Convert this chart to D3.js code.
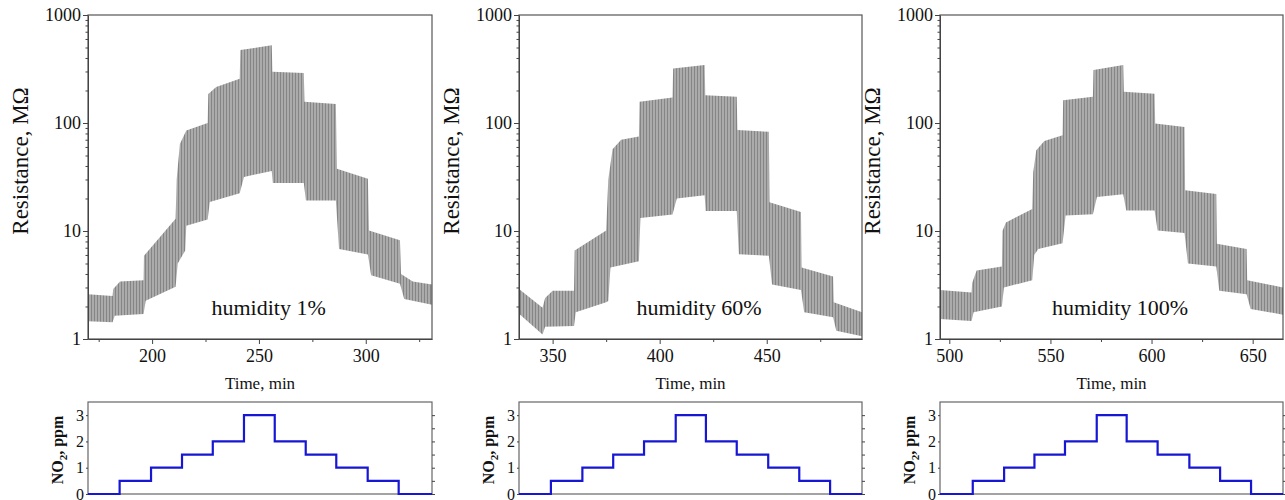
<!DOCTYPE html>
<html>
<head>
<meta charset="utf-8">
<script src="https://cdn.jsdelivr.net/npm/d3@7"></script>
<style>
    body { margin: 0; background: #fff; }
    svg text { font-family: "Liberation Serif", "Times New Roman", Times, serif !important; fill: #111; }
    .axis path, .axis line { stroke: #444; }
</style>
</head>
<body>
<div id="chart"></div>
<script>
// ---- data ----
const humidityLabels = ["humidity 1%", "humidity 60%", "humidity 100%"];
const resistanceTicks = [1, 10, 100, 1000];
const no2Ticks = [0, 1, 2, 3];
const no2Levels = [0, 0.5, 1, 1.5, 2, 3, 2, 1.5, 1, 0.5, 0];

// time axis ranges (min)
const timeRange1 = [170, 331];
const timeRange2 = [334.3, 494.5];
const timeRange3 = [495.4, 665];

// times at which each NO2 level starts (min)
const no2Start1 = [170, 184.8, 199.5, 214, 228.4, 243, 257.4, 271.9, 286.2, 300.9, 315.4];
const no2Start2 = [334.3, 349.2, 363.9, 378.3, 392.7, 407.5, 421.6, 436, 450.7, 465.2, 479.6];
const no2Start3 = [495.4, 511.6, 527.1, 542.1, 557.2, 572.9, 587.7, 603, 618.7, 633.9, 649.2];

// upper / lower envelope of the pulsed resistance signal [time, MOhm]
const upper1 = [[170, 2.6], [181.5, 2.5], [181.8, 2.9], [185, 3.4], [196, 3.5], [196.2, 5.9], [211, 13], [211.5, 30],
    [213, 64], [216, 85], [226, 100], [226.3, 186], [230, 215], [241, 257], [241.3, 473], [256, 525], [256.3, 298],
    [271, 290], [271.3, 157], [286, 150], [286.5, 37.8], [301, 30.5], [301.5, 10.1], [316, 8.2], [316.5, 4.0],
    [322, 3.4], [331, 3.2]];
const lower1 = [[170, 1.46], [181.5, 1.43], [182.5, 1.64], [196, 1.7], [197, 2.26], [211, 3.05], [212, 5.0],
    [215.5, 6.6], [216, 11.2], [226, 12.8], [227, 18.6], [241, 22.4], [243, 31.7], [256, 36], [256.5, 27.8],
    [271, 27.8], [272, 19.2], [286, 19.2], [287.5, 6.8], [301, 6.05], [302.5, 3.9], [316, 3.24], [318, 2.35],
    [331, 2.08]];

const upper2 = [[334.3, 2.9], [345.3, 1.95], [346.5, 2.4], [350, 2.8], [360, 2.8], [360.3, 6.6], [375, 10.1],
    [376, 30], [378, 57], [382, 70], [390.3, 75], [390.6, 157], [406, 172], [406.3, 320], [421, 344], [421.3, 181],
    [436, 175], [436.3, 86], [451, 83], [451.3, 18.5], [466, 15], [466.3, 4.6], [481, 3.8], [481.3, 2.19],
    [494.5, 1.77]];
const lower2 = [[334.3, 1.71], [345.3, 1.1], [346.5, 1.3], [360, 1.32], [360.8, 1.77], [375, 2.19], [376, 2.25],
    [377, 4.6], [390.3, 5.25], [391, 13.2], [406, 14.2], [408, 20], [421, 21.4], [421.5, 15.3], [436, 15.3],
    [437, 6.1], [451, 5.9], [452.5, 3.2], [466, 2.85], [467.5, 1.77], [481, 1.59], [482.5, 1.19], [494.5, 1.06]];

const upper3 = [[495.4, 2.85], [511, 2.7], [511.3, 3.3], [513.5, 4.3], [526, 4.7], [526.3, 10], [528, 12],
    [541, 16], [541.5, 35], [543, 56], [547, 68], [556, 77], [556.3, 162], [571, 175], [571.3, 309], [586, 344],
    [586.3, 195], [601.5, 187], [601.8, 99], [616.3, 92], [616.6, 23.8], [632, 22], [632.3, 7.6], [647, 6.8],
    [647.3, 3.5], [665, 3.0]];
const lower3 = [[495.4, 1.53], [511, 1.47], [512, 1.77], [526, 2.0], [527, 3.0], [541, 3.5], [542, 6.0],
    [544, 6.8], [556, 7.7], [557.5, 13.9], [571, 14.3], [573, 20.6], [586, 21.9], [587.5, 15.5], [601.5, 15.5],
    [603, 10.1], [616.3, 9.6], [618, 5.0], [632, 4.7], [633.5, 2.8], [647, 2.6], [649, 1.9], [665, 1.68]];

const SERIF = '"Liberation Serif", "Times New Roman", Times, serif';

/* * * * * * * * * * * * * *
*      class SensorPanel     *
* * * * * * * * * * * * * */

class SensorPanel {

    constructor(svg, id, left, right, cfg) {
        this.svg = svg;
        this.id = id;
        this.left = left;
        this.right = right;
        this.cfg = cfg;

        this.initVis();
    }

    initVis() {
        let vis = this;

        vis.top = {y0: 15, y1: 339};
        vis.bot = {y0: 402, y1: 494};

        vis.x = d3.scaleLinear().domain(vis.cfg.time).range([vis.left, vis.right]);
        vis.y = d3.scaleLog().domain([1, 1000]).range([vis.top.y1, vis.top.y0]);
        vis.yNo2 = d3.scaleLinear().domain([0, 3.5]).range([vis.bot.y1, vis.bot.y0]);

        vis.svg.append("clipPath").attr("id", "clip" + vis.id)
            .append("rect")
            .attr("x", vis.left).attr("y", vis.top.y0)
            .attr("width", vis.right - vis.left).attr("height", vis.top.y1 - vis.top.y0);

        vis.drawResistance();
        vis.drawNo2();
    }

    drawResistance() {
        let vis = this;

        // envelope of pulses, filled with the stripe pattern
        let line = d3.line().x(d => vis.x(d[0])).y(d => vis.y(d[1]));
        let outline = vis.cfg.upper.concat(vis.cfg.lower.slice().reverse());

        vis.svg.append("path")
            .attr("clip-path", `url(#clip${vis.id})`)
            .attr("d", line(outline) + "Z")
            .attr("fill", "url(#pulses)");

        // frame
        vis.svg.append("rect")
            .attr("x", vis.left).attr("y", vis.top.y0)
            .attr("width", vis.right - vis.left).attr("height", vis.top.y1 - vis.top.y0)
            .attr("fill", "none").attr("stroke", "#555").attr("stroke-width", 1.2);

        // x axis, major + minor
        let t = vis.cfg.time;
        let all = d3.range(Math.ceil(t[0] / 25) * 25, t[1], 25);
        let major = all.filter(d => d % 50 === 0);
        let minor = all.filter(d => d % 50 !== 0);

        vis.svg.append("g").attr("class", "axis")
            .attr("transform", `translate(0,${vis.top.y1})`)
            .call(d3.axisBottom(vis.x).tickValues(minor).tickSize(3).tickFormat(""))
            .call(g => g.select(".domain").remove());

        vis.svg.append("g").attr("class", "axis")
            .attr("transform", `translate(0,${vis.top.y1})`)
            .call(d3.axisBottom(vis.x).tickValues(major).tickSize(5).tickPadding(5).tickSizeOuter(0))
            .call(g => g.attr("font-family", SERIF).attr("font-size", 18));

        // y axis, log, major + minor
        let minorY = [];
        [1, 10, 100].forEach(dec => d3.range(2, 10).forEach(k => minorY.push(dec * k)));

        vis.svg.append("g").attr("class", "axis")
            .attr("transform", `translate(${vis.left},0)`)
            .call(d3.axisLeft(vis.y).tickValues(minorY).tickSize(2.5).tickFormat(""))
            .call(g => g.select(".domain").remove());

        vis.svg.append("g").attr("class", "axis")
            .attr("transform", `translate(${vis.left},0)`)
            .call(d3.axisLeft(vis.y).tickValues(resistanceTicks).tickSize(5).tickPadding(2)
                .tickSizeOuter(0).tickFormat(d3.format("d")))
            .call(g => g.attr("font-family", SERIF).attr("font-size", 18));

        // labels
        vis.svg.append("text")
            .attr("transform", `translate(${vis.left - 60},161) rotate(-90)`)
            .attr("text-anchor", "middle")
            .attr("font-family", SERIF)
            .attr("font-size", 23)
            .text("Resistance, MΩ");

        vis.svg.append("text")
            .attr("x", (vis.left + vis.right) / 2).attr("y", 389)
            .attr("text-anchor", "middle")
            .attr("font-family", SERIF)
            .attr("font-size", 17)
            .text("Time, min");

        vis.svg.append("text")
            .attr("x", vis.left + 0.525 * (vis.right - vis.left)).attr("y", 315)
            .attr("text-anchor", "middle")
            .attr("font-family", SERIF)
            .attr("font-size", 22)
            .text(vis.cfg.label);
    }

    drawNo2() {
        let vis = this;

        let pts = vis.cfg.no2.map((t, i) => [t, no2Levels[i]]);
        pts.push([vis.cfg.time[1], no2Levels[no2Levels.length - 1]]);

        vis.svg.append("rect")
            .attr("x", vis.left).attr("y", vis.bot.y0)
            .attr("width", vis.right - vis.left).attr("height", vis.bot.y1 - vis.bot.y0)
            .attr("fill", "none").attr("stroke", "#666").attr("stroke-width", 1.2);

        vis.svg.append("g").attr("class", "axis")
            .attr("transform", `translate(${vis.right},0)`)
            .call(d3.axisRight(vis.yNo2).tickValues(d3.range(0, 3.01, 0.5)).tickSize(3).tickFormat(""))
            .call(g => g.select(".domain").remove());

        vis.svg.append("g").attr("class", "axis")
            .attr("transform", `translate(${vis.left},0)`)
            .call(d3.axisLeft(vis.yNo2).tickValues(no2Ticks).tickSize(2).tickPadding(2)
                .tickSizeOuter(0).tickFormat(d3.format("d")))
            .call(g => g.select(".domain").remove())
            .call(g => g.attr("font-family", SERIF).attr("font-size", 16));

        vis.svg.append("path")
            .datum(pts)
            .attr("d", d3.line().curve(d3.curveStepAfter).x(d => vis.x(d[0])).y(d => vis.yNo2(d[1])))
            .attr("fill", "none")
            .attr("stroke", "#1616d4")
            .attr("stroke-width", 2.2);

        let lab = vis.svg.append("text")
            .attr("transform", `translate(${vis.left - 25},450) rotate(-90)`)
            .attr("text-anchor", "middle")
            .attr("font-family", SERIF)
            .attr("font-size", 16)
            .attr("font-weight", "bold");
        lab.append("tspan").text("NO");
        lab.append("tspan").attr("dy", 4).attr("font-size", 11).text("2");
        lab.append("tspan").attr("dy", -4).text(", ppm");
    }
}

let svg = d3.select("#chart").append("svg")
    .attr("width", 1285)
    .attr("height", 500)
    .attr("font-family", SERIF);

// fine vertical stripes stand in for the dense pulse train
let pat = svg.append("defs").append("pattern")
    .attr("id", "pulses")
    .attr("patternUnits", "userSpaceOnUse")
    .attr("width", 3).attr("height", 10);
pat.append("rect").attr("width", 3).attr("height", 10).attr("fill", "#ababab");
pat.append("rect").attr("x", 1).attr("width", 1).attr("height", 10).attr("fill", "#858585");

new SensorPanel(svg, 1, 88, 432, {time: timeRange1, upper: upper1, lower: lower1, no2: no2Start1, label: humidityLabels[0]});
new SensorPanel(svg, 2, 519, 862, {time: timeRange2, upper: upper2, lower: lower2, no2: no2Start2, label: humidityLabels[1]});
new SensorPanel(svg, 3, 940, 1283, {time: timeRange3, upper: upper3, lower: lower3, no2: no2Start3, label: humidityLabels[2]});
</script>
</body>
</html>
